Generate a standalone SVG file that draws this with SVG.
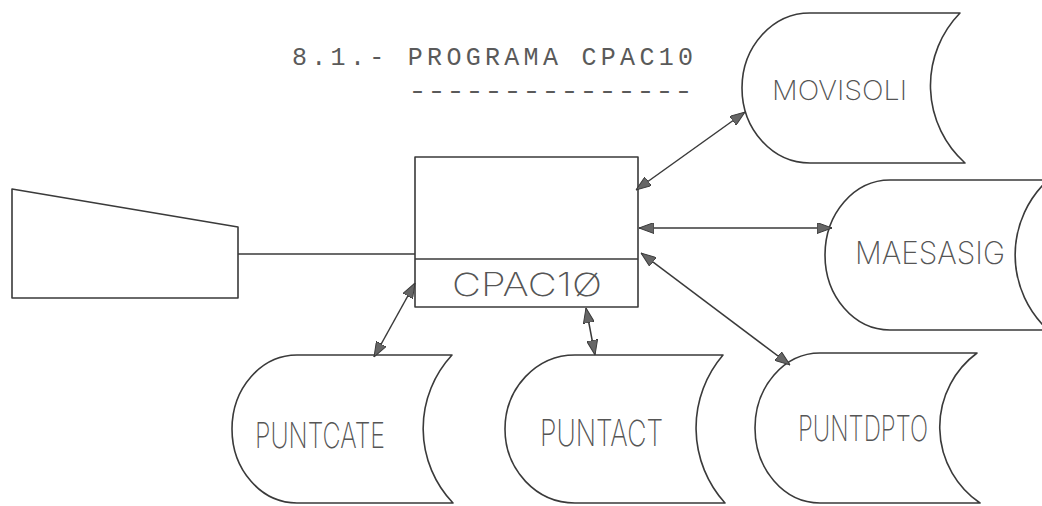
<svg xmlns="http://www.w3.org/2000/svg" width="1042" height="506" viewBox="0 0 1042 506">
  <style>
    .shape { fill: #ffffff; stroke: #3a3a3a; stroke-width: 1.6; stroke-linejoin: round; }
    .link { fill: none; stroke: #3a3a3a; stroke-width: 1.5; }
    .title { font-family: "Liberation Mono", "DejaVu Sans Mono", monospace; font-weight: normal; font-size: 25px; fill: #5a5a5a; }
    .hand { font-family: Inter, "DejaVu Sans", sans-serif; font-weight: 200; fill: #555555; }
  </style>
  <defs>
    <marker id="head" viewBox="0 0 15 11" refX="15" refY="5.5" markerWidth="15" markerHeight="11"
            markerUnits="userSpaceOnUse" orient="auto-start-reverse">
      <path d="M0,0 L15,5.5 L0,11 Z" fill="#666666" stroke="#3a3a3a" stroke-width="1"/>
    </marker>
  </defs>

  <!-- heading -->
  <g id="heading">
    <text class="title" x="292" y="65" textLength="401" lengthAdjust="spacing">8.1.- PROGRAMA CPAC10</text>
    <text class="title" x="408" y="99" textLength="285" lengthAdjust="spacingAndGlyphs">---------------</text>
  </g>

  <!-- input terminal -->
  <g id="terminal">
    <path class="shape" d="M12,189 L238,227 L238,298 L12,298 Z"/>
  </g>

  <!-- program box -->
  <g id="cpac10">
    <rect class="shape" x="415" y="157" width="223" height="150"/>
    <line class="link" x1="415" y1="259" x2="638" y2="259"/>
    <text class="hand" x="452" y="296" font-size="32" textLength="150" lengthAdjust="spacingAndGlyphs">CPAC1Ø</text>
  </g>

  <!-- files -->
  <g id="movisoli">
    <path class="shape" d="M810,13 L960,13 A104,104 0 0 0 965,163 L810,163 A68,75 0 0 1 810,13 Z"/>
    <text class="hand" x="772" y="100" font-size="27" textLength="135" lengthAdjust="spacingAndGlyphs">MOVISOLI</text>
  </g>

  <g id="maesasig">
    <path class="shape" d="M890,180 L1048,180 A102,102 0 0 0 1048,330 L890,330 A65,75 0 0 1 890,180 Z"/>
    <text class="hand" x="855" y="264" font-size="31" textLength="150" lengthAdjust="spacingAndGlyphs">MAESASIG</text>
  </g>

  <g id="puntcate">
    <path class="shape" d="M297,355 L452,355 A108,108 0 0 0 453,503 L297,503 A65,74 0 0 1 297,355 Z"/>
    <text class="hand" x="255" y="448" font-size="35" textLength="130" lengthAdjust="spacingAndGlyphs">PUNTCATE</text>
  </g>

  <g id="puntact">
    <path class="shape" d="M575,355 L723,355 A112,112 0 0 0 725,503 L575,503 A70,74 0 0 1 575,355 Z"/>
    <text class="hand" x="540" y="446" font-size="36" textLength="123" lengthAdjust="spacingAndGlyphs">PUNTACT</text>
  </g>

  <g id="puntdpto">
    <path class="shape" d="M820,353 L977,353 A92,92 0 0 0 980,503 L820,503 A65,75 0 0 1 820,353 Z"/>
    <text class="hand" x="798" y="441" font-size="35" textLength="130" lengthAdjust="spacingAndGlyphs">PUNTDPTO</text>
  </g>

  <!-- connectors -->
  <g id="connectors">
    <line class="link" x1="238" y1="254" x2="415" y2="254"/>
    <line class="link" x1="636" y1="190" x2="745" y2="112" marker-start="url(#head)" marker-end="url(#head)"/>
    <line class="link" x1="639" y1="228" x2="832" y2="228" marker-start="url(#head)" marker-end="url(#head)"/>
    <line class="link" x1="641" y1="253" x2="790" y2="365" marker-start="url(#head)" marker-end="url(#head)"/>
    <line class="link" x1="415" y1="283" x2="374" y2="357" marker-start="url(#head)" marker-end="url(#head)"/>
    <line class="link" x1="586" y1="308" x2="595" y2="355" marker-start="url(#head)" marker-end="url(#head)"/>
  </g>
</svg>
